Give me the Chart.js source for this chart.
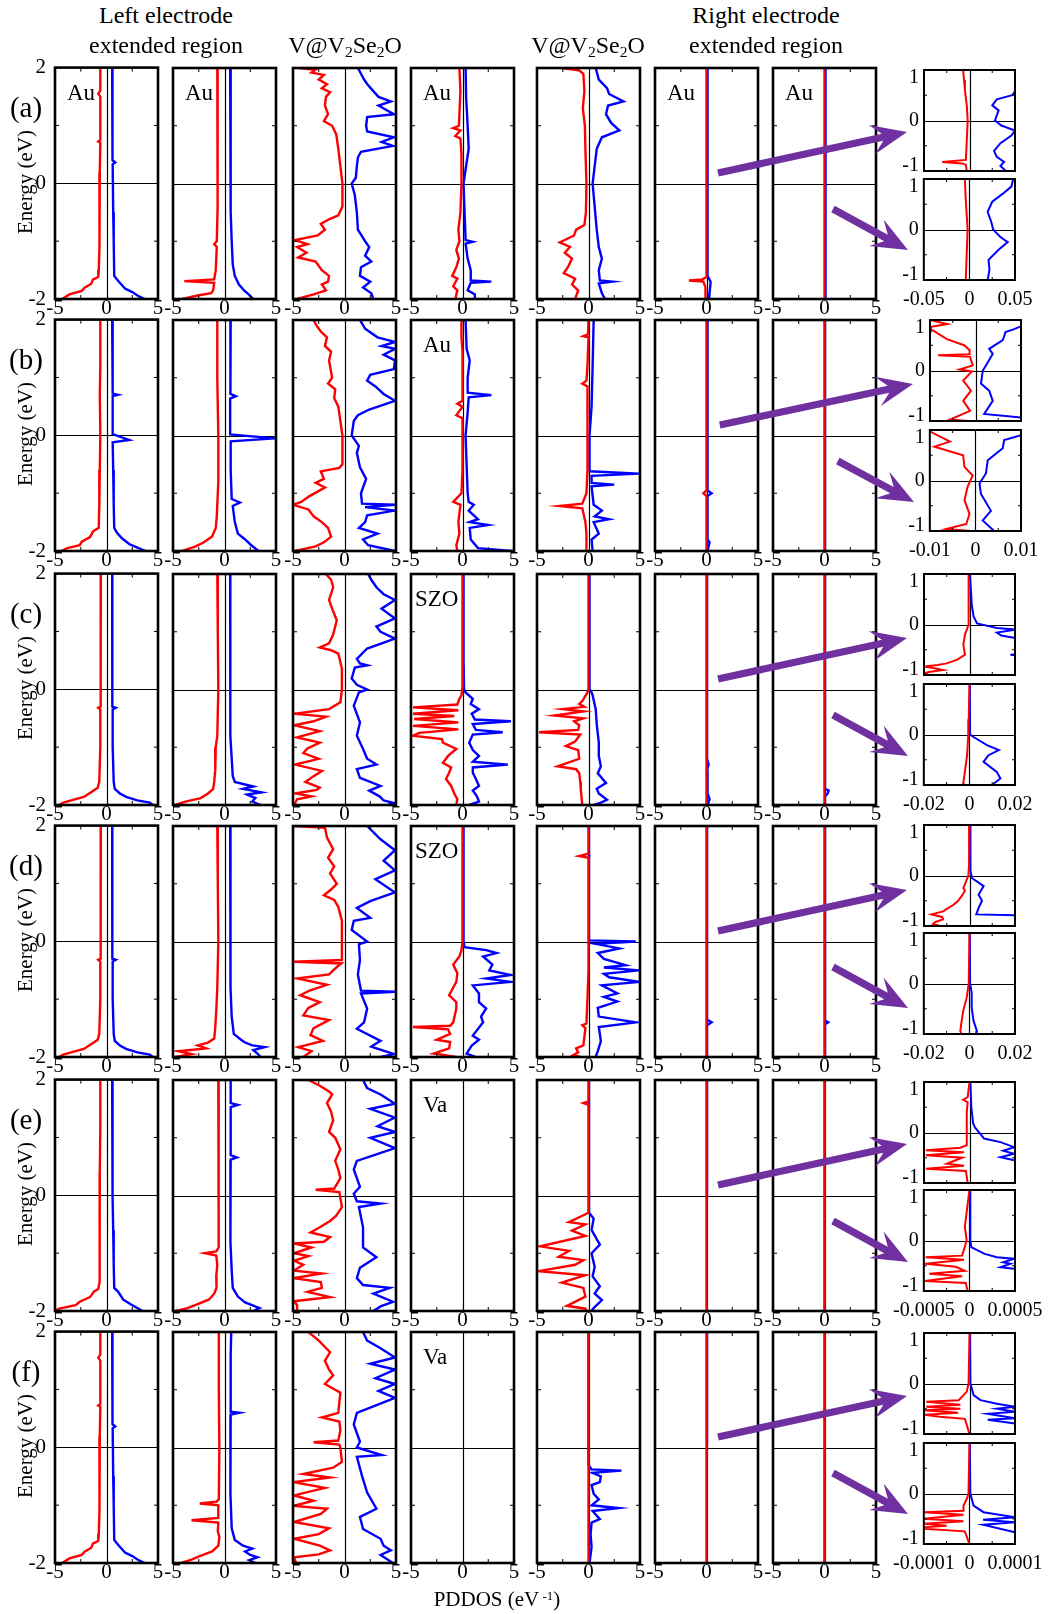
<!DOCTYPE html>
<html>
<head>
<meta charset="utf-8">
<title>PDDOS panels</title>
<script src="https://cdn.jsdelivr.net/npm/chart.js@4.4.1/dist/chart.umd.min.js"></script>
<style>
  body { margin: 0; background: #fff; }
  #fig { position: relative; width: 1061px; height: 1614px; overflow: hidden;
         font-family: "Liberation Serif", "Times New Roman", serif; color: #000; }
  #fig canvas { position: absolute; }
  .txt { position: absolute; white-space: nowrap; line-height: 1; }
  .lo { font-size: 0.65em; position: relative; top: 0.28em; }
  .hi { font-size: 0.62em; position: relative; top: -0.5em; }
  #arrows { position: absolute; left: 0; top: 0; z-index: 5; }
</style>
</head>
<body>
<div id="fig"></div>
<script>
// ---- tick labels / categories ----
const rowLetters = ["a", "b", "c", "d", "e", "f"];
const pdosTicks = [-5, 0, 5];
const pdosLabels = ["-5", "0", "5"];
const energyTicks = [-2, 0, 2];
const energyLabels = ["-2", "0", "2"];
const insetEnergyTicks = [-0.9, 0, 0.85];
const insetEnergyLabels = ["-1", "0", "1"];
const insetRange = [0.05, 0.01, 0.02, 0.02, 0.0005, 0.0001];
const insetXLabels = [
    ["-0.05", "0", "0.05"],
    ["-0.01", "0", "0.01"],
    ["-0.02", "0", "0.02"],
    ["-0.02", "0", "0.02"],
    ["-0.0005", "0", "0.0005"],
    ["-0.0001", "0", "0.0001"],
];
const panelTags = [
    ["Au", "Au", "", "Au", "", "Au", "Au"],
    ["", "", "", "Au", "", "", ""],
    ["", "", "", "SZO", "", "", ""],
    ["", "", "", "SZO", "", "", ""],
    ["", "", "", "Va", "", "", ""],
    ["", "", "", "Va", "", "", ""],
];

// ---- curves: [energy (eV), PDDOS] ----
// left electrode, column 1 (rows a, f)
const auLeftRed = [[2,-0.6],[1.6,-0.6],[1.55,-0.8],[1.5,-0.6],[0.75,-0.6],[0.72,-0.8],[0.7,-0.6],[0.2,-0.65],[-0.3,-0.65],[-0.7,-0.7],[-1.1,-0.7],[-1.5,-0.75],[-1.62,-0.8],[-1.66,-1.3],[-1.74,-1.5],[-1.8,-2.1],[-1.86,-2.4],[-1.92,-3.6],[-2,-4.3]];
const auLeftBlue = [[2,0.55],[1.5,0.6],[0.9,0.55],[0.4,0.6],[0.36,0.85],[0.33,0.6],[-0.5,0.65],[-1.0,0.7],[-1.6,0.75],[-1.66,1.0],[-1.74,1.4],[-1.82,1.8],[-1.88,2.5],[-1.94,3.0],[-2,3.7]];
// rows c, d
const auLeftRedCD = [[2,-0.55],[1.0,-0.55],[0,-0.55],[-0.3,-0.6],[-0.32,-0.8],[-0.35,-0.6],[-1.0,-0.6],[-1.6,-0.7],[-1.7,-0.85],[-1.78,-1.5],[-1.86,-2.2],[-1.9,-3.0],[-1.96,-4.2],[-2,-4.6]];
const auLeftBlueCD = [[2,0.55],[1.0,0.55],[0,0.55],[-0.3,0.6],[-0.32,0.9],[-0.35,0.6],[-1.0,0.6],[-1.6,0.7],[-1.72,0.8],[-1.8,1.3],[-1.86,1.9],[-1.92,3.0],[-1.96,4.2],[-2,4.5]];

// row a
const a2Red = [[2,-0.7],[1.2,-0.7],[0.4,-0.65],[-0.4,-0.65],[-1.0,-0.75],[-1.05,-1.0],[-1.1,-0.75],[-1.5,-0.85],[-1.66,-1.0],[-1.69,-3.9],[-1.72,-1.0],[-1.85,-1.1],[-1.9,-1.3],[-1.94,-2.6],[-2,-4.1]];
const a2Blue = [[2,0.55],[1.2,0.6],[0.3,0.6],[-0.5,0.6],[-1.0,0.7],[-1.4,0.8],[-1.6,1.0],[-1.75,1.4],[-1.85,1.9],[-1.93,2.4],[-2,2.8]];
const a3Red = [[2,-4.4],[1.97,-2.8],[1.92,-3.2],[1.88,-2.0],[1.8,-2.5],[1.72,-1.7],[1.65,-2.2],[1.58,-1.4],[1.5,-1.8],[1.35,-1.9],[1.2,-1.6],[1.08,-2.0],[1.0,-1.2],[0.85,-0.8],[0.6,-0.6],[0.3,-0.4],[0,-0.2],[-0.4,-0.2],[-0.55,-0.6],[-0.62,-1.5],[-0.7,-2.3],[-0.8,-1.9],[-0.9,-2.6],[-0.98,-4.8],[-1.05,-3.6],[-1.1,-4.6],[-1.2,-3.7],[-1.28,-4.5],[-1.35,-2.8],[-1.5,-2.2],[-1.6,-1.5],[-1.7,-1.6],[-1.75,-2.2],[-1.85,-1.8],[-1.92,-3.0],[-2,-4.6]];
const a3Blue = [[2,1.3],[1.9,1.6],[1.8,1.9],[1.7,2.3],[1.6,2.8],[1.5,3.3],[1.42,4.5],[1.35,3.3],[1.2,4.8],[1.15,2.2],[1.0,2.1],[0.9,2.2],[0.8,4.8],[0.72,3.6],[0.65,4.7],[0.55,1.6],[0.45,1.3],[0.3,1.2],[0.1,1.1],[0,0.7],[-0.2,1.0],[-0.5,1.2],[-0.8,1.3],[-1.0,2.0],[-1.1,2.4],[-1.25,2.0],[-1.35,2.6],[-1.45,1.6],[-1.6,1.5],[-1.7,2.5],[-1.8,1.8],[-1.9,2.6],[-2,2.8]];
const a4Red = [[2,-0.3],[1.6,-0.2],[1.2,-0.3],[1.0,-0.35],[0.96,-0.9],[0.92,-0.2],[0.82,-0.7],[0.78,-0.2],[0.5,-0.1],[0,-0.1],[-0.5,-0.2],[-0.8,-0.4],[-1.0,-0.3],[-1.15,-0.6],[-1.3,-0.35],[-1.45,-0.6],[-1.6,-1.0],[-1.65,-0.5],[-1.78,-0.9],[-1.85,-0.5],[-2,-0.7]];
const a4Blue = [[2,0.3],[1.5,0.35],[1.0,0.5],[0.6,0.6],[0.3,0.35],[0,0.1],[-0.5,0.2],[-0.98,0.3],[-1.01,1.0],[-1.04,0.3],[-1.3,0.5],[-1.5,0.8],[-1.68,0.8],[-1.7,2.8],[-1.72,0.8],[-1.85,0.5],[-1.92,1.2],[-2,1.2]];
const a5Red = [[2,-2.6],[1.96,-0.9],[1.9,-0.5],[1.6,-0.4],[1.3,-0.55],[1.0,-0.35],[0.6,-0.3],[0,-0.2],[-0.5,-0.25],[-0.72,-0.4],[-0.8,-1.2],[-0.9,-1.4],[-1.02,-2.8],[-1.1,-1.8],[-1.2,-2.3],[-1.3,-1.6],[-1.45,-2.0],[-1.55,-2.4],[-1.65,-1.3],[-1.75,-1.6],[-1.85,-1.0],[-2,-1.3]];
const a5Blue = [[2,0.7],[1.8,1.0],[1.65,1.8],[1.55,2.0],[1.42,3.4],[1.35,1.9],[1.2,1.7],[1.05,2.2],[0.92,3.0],[0.8,1.3],[0.6,0.8],[0.3,0.6],[0,0.4],[-0.4,0.6],[-0.8,0.8],[-1.1,1.0],[-1.3,1.3],[-1.5,1.0],[-1.68,1.1],[-1.7,2.3],[-1.73,1.0],[-1.9,1.3],[-2,1.6]];
const a6Red = [[2,0],[-1.62,0],[-1.66,-0.4],[-1.68,-1.7],[-1.7,-0.3],[-1.8,-0.1],[-2,-0.1]];
const a6Blue = [[2,0.1],[-1.6,0.1],[-1.7,0.4],[-1.9,0.3],[-2,0.25]];
const a7Red = [[2,0],[-2,0]];
const a7Blue = [[2,0.1],[-2,0.1]];
const aTopRed = [[1,-0.007],[0.8,-0.006],[0.6,-0.005],[0.3,-0.003],[0,-0.002],[-0.4,-0.003],[-0.78,-0.004],[-0.82,-0.03],[-0.85,-0.008],[-0.88,-0.004],[-1,-0.003]];
const aTopBlue = [[0.58,0.05],[0.5,0.047],[0.42,0.03],[0.3,0.025],[0.2,0.032],[0.1,0.03],[0,0.028],[-0.1,0.035],[-0.2,0.05],[-0.3,0.046],[-0.45,0.034],[-0.6,0.027],[-0.72,0.03],[-0.82,0.038],[-0.9,0.034],[-1,0.04]];
const aBotRed = [[1,-0.005],[0.6,-0.004],[0,-0.002],[-0.5,-0.003],[-1,-0.004]];
const aBotBlue = [[1,0.048],[0.85,0.046],[0.7,0.036],[0.55,0.025],[0.35,0.02],[0.15,0.024],[0,0.026],[-0.15,0.034],[-0.25,0.042],[-0.4,0.032],[-0.6,0.021],[-0.8,0.022],[-1,0.02]];

// row b
const b1Red = [[2,-0.6],[1.2,-0.6],[0.7,-0.65],[0,-0.6],[-0.6,-0.65],[-1.2,-0.7],[-1.6,-0.75],[-1.66,-1.3],[-1.76,-1.6],[-1.84,-2.4],[-1.9,-2.6],[-1.95,-3.8],[-2,-4.4]];
const b1Blue = [[2,0.55],[1.0,0.6],[0.72,0.6],[0.7,1.1],[0.68,0.6],[0.02,0.6],[-0.08,2.2],[-0.12,0.6],[-0.6,0.65],[-1.2,0.7],[-1.6,0.75],[-1.68,1.0],[-1.78,1.5],[-1.88,2.2],[-1.94,3.0],[-2,3.8]];
const b2Red = [[2,-0.7],[1.0,-0.7],[0,-0.6],[-0.8,-0.6],[-1.4,-0.75],[-1.6,-0.85],[-1.75,-1.2],[-1.85,-2.0],[-1.92,-2.8],[-2,-4.1]];
const b2Blue = [[2,0.6],[1.0,0.6],[0.72,0.55],[0.68,1.1],[0.64,0.55],[0.02,0.55],[-0.05,4.9],[-0.1,0.6],[-0.6,0.6],[-1.1,0.7],[-1.16,1.5],[-1.22,0.8],[-1.5,1.0],[-1.7,1.3],[-1.8,2.0],[-1.9,2.6],[-2,3.3]];
const b3Red = [[2,-3.0],[1.9,-2.7],[1.8,-2.3],[1.7,-1.7],[1.55,-1.9],[1.45,-1.3],[1.3,-1.5],[1.0,-1.2],[0.9,-1.6],[0.8,-0.9],[0.65,-1.0],[0.5,-0.6],[0.25,-0.4],[0,-0.2],[-0.5,-0.2],[-0.56,-0.5],[-0.62,-2.3],[-0.75,-2.0],[-0.82,-2.8],[-0.9,-1.9],[-1.05,-3.4],[-1.15,-4.2],[-1.2,-5.0],[-1.28,-3.5],[-1.4,-3.0],[-1.5,-2.2],[-1.6,-1.6],[-1.75,-1.3],[-1.85,-2.0],[-1.92,-2.8],[-2,-4.8]];
const b3Blue = [[2,1.5],[1.85,2.0],[1.7,3.2],[1.62,4.9],[1.55,3.6],[1.5,4.9],[1.4,3.8],[1.3,4.9],[1.15,4.8],[1.05,2.5],[0.95,2.2],[0.85,3.0],[0.72,3.8],[0.6,4.9],[0.45,2.4],[0.35,1.3],[0.25,0.9],[0,0.7],[-0.18,1.4],[-0.3,1.2],[-0.55,1.5],[-0.75,2.1],[-1.0,1.6],[-1.18,1.7],[-1.2,4.9],[-1.24,2.0],[-1.3,4.9],[-1.38,2.2],[-1.5,2.0],[-1.6,1.4],[-1.7,3.2],[-1.8,1.8],[-1.9,2.3],[-2,4.9]];
const b4Red = [[2,-0.1],[1.7,-0.1],[1.45,0],[0.6,0],[0.55,-0.5],[0.5,0],[0.35,-0.6],[0.3,0],[0,0],[-0.6,0],[-1.0,-0.1],[-1.15,-0.9],[-1.2,-0.2],[-1.5,-0.4],[-1.7,-0.3],[-1.9,-0.6],[-2,-0.5]];
const b4Blue = [[2,0.3],[1.5,0.4],[1.3,0.7],[1.0,0.5],[0.74,0.5],[0.7,2.8],[0.66,0.6],[0.4,0.5],[0,0.3],[-0.5,0.4],[-1.0,0.5],[-1.15,0.6],[-1.2,1.1],[-1.3,0.6],[-1.45,1.5],[-1.5,0.7],[-1.55,2.5],[-1.6,0.7],[-1.8,0.8],[-1.95,1.5],[-2,4.8]];
const b5Red = [[2,0],[1.75,-0.05],[1.72,-0.5],[1.7,0],[1.2,-0.1],[0.95,-0.2],[0.9,-0.6],[0.85,-0.1],[0,-0.1],[-0.6,-0.1],[-1.0,-0.2],[-1.18,-0.6],[-1.22,-2.8],[-1.26,-0.6],[-1.5,-0.3],[-1.7,-0.2],[-2,-0.2]];
const b5Blue = [[2,0.5],[1.2,0.4],[0.5,0.3],[0,0.1],[-0.5,0.1],[-0.62,0.1],[-0.66,4.9],[-0.7,0.3],[-0.82,0.3],[-0.85,2.5],[-0.88,0.3],[-1.2,0.5],[-1.3,1.3],[-1.4,0.6],[-1.45,2.0],[-1.5,0.5],[-1.7,1.0],[-1.8,0.3],[-2,0.4]];
const b6Red = [[2,0],[-0.95,0],[-1.0,-0.3],[-1.05,0],[-2,0]];
const b6Blue = [[2,0.1],[-0.95,0.1],[-1.0,0.5],[-1.05,0.1],[-1.8,0.1],[-1.85,0.3],[-2,0.1]];
const b7Red = [[2,0],[-2,0]];
const b7Blue = [[2,0.05],[-2,0.05]];
const bTopRed = [[1,-0.01],[0.92,-0.0062],[0.86,-0.01],[0.82,-0.0098],[0.62,-0.0063],[0.5,-0.0025],[0.4,-0.0013],[0.32,-0.0013],[0.3,-0.0082],[0.27,-0.0012],[0.1,-0.0006],[0.02,-0.0035],[-0.02,-0.0008],[-0.2,-0.0027],[-0.4,-0.001],[-0.6,-0.0027],[-0.8,-0.0012],[-0.97,-0.0056],[-1,-0.0015]];
const bTopBlue = [[0.88,0.0101],[0.82,0.0085],[0.76,0.0066],[0.6,0.006],[0.43,0.003],[0.33,0.0038],[0.1,0.0023],[0,0.0016],[-0.26,0.0012],[-0.4,0.003],[-0.6,0.0038],[-0.86,0.0019],[-0.93,0.0101]];
const bBotRed = [[1,-0.0101],[0.95,-0.0095],[0.77,-0.0056],[0.67,-0.009],[0.5,-0.0027],[0.27,-0.0024],[0.1,-0.0006],[-0.12,-0.0017],[-0.39,-0.0024],[-0.66,-0.0013],[-0.86,-0.002],[-0.96,-0.0064],[-1,-0.001]];
const bBotBlue = [[0.9,0.0101],[0.8,0.0063],[0.64,0.006],[0.4,0.0027],[0.14,0.0023],[-0.06,0.0009],[-0.26,0.0012],[-0.6,0.0034],[-0.79,0.0016],[-1,0.0041]];

// row c
const c2Red = [[2,-0.7],[1.0,-0.65],[0,-0.6],[-0.8,-0.7],[-1.0,-0.85],[-1.4,-0.9],[-1.6,-1.0],[-1.72,-1.1],[-1.8,-1.6],[-1.88,-2.3],[-1.94,-3.8],[-2,-4.8]];
const c2Blue = [[2,0.55],[1.0,0.55],[0,0.55],[-0.8,0.6],[-1.2,0.7],[-1.5,0.8],[-1.6,1.0],[-1.68,2.8],[-1.72,1.8],[-1.78,3.6],[-1.82,2.2],[-1.88,3.0],[-1.94,2.7],[-2,3.5]];
const c3Red = [[2,-1.8],[1.9,-1.3],[1.77,-1.1],[1.55,-1.5],[1.4,-1.2],[1.2,-0.75],[0.95,-1.1],[0.8,-1.5],[0.73,-2.4],[0.68,-1.3],[0.62,-0.6],[0.36,-0.25],[0,-0.25],[-0.22,-0.4],[-0.34,-1.5],[-0.42,-4.9],[-0.47,-1.8],[-0.55,-3.0],[-0.62,-4.9],[-0.72,-2.4],[-0.83,-4.6],[-0.92,-2.4],[-1.02,-3.6],[-1.1,-4.0],[-1.2,-2.5],[-1.3,-4.8],[-1.41,-2.2],[-1.5,-3.0],[-1.6,-3.8],[-1.7,-2.4],[-1.74,-2.7],[-1.8,-4.8],[-1.85,-3.2],[-1.9,-4.6],[-2,-4.9]];
const c3Blue = [[2,2.3],[1.9,2.6],[1.77,3.1],[1.65,3.8],[1.55,4.9],[1.4,3.6],[1.23,4.9],[1.09,3.1],[1.0,3.5],[0.88,4.9],[0.71,2.2],[0.53,1.2],[0.45,1.5],[0.42,2.2],[0.38,1.0],[0.19,0.7],[0.08,1.2],[0,2.2],[-0.05,1.4],[-0.28,0.9],[-0.57,1.5],[-0.8,1.2],[-1.03,1.8],[-1.2,2.2],[-1.3,3.1],[-1.38,1.2],[-1.53,1.5],[-1.67,3.5],[-1.75,2.4],[-1.85,3.4],[-1.92,3.8],[-1.97,4.9],[-2,4.2]];
const c4Red = [[2,0],[0.05,0],[-0.1,-0.1],[-0.16,-0.3],[-0.26,-0.5],[-0.31,-4.8],[-0.36,-0.4],[-0.42,-4.8],[-0.46,-0.8],[-0.51,-4.7],[-0.57,-0.4],[-0.63,-4.8],[-0.69,-0.4],[-0.75,-4.2],[-0.8,-4.8],[-0.86,-2.0],[-0.92,-1.9],[-1.03,-0.6],[-1.15,-1.4],[-1.27,-1.9],[-1.35,-1.1],[-1.44,-1.3],[-1.55,-1.6],[-1.67,-1.1],[-1.8,-0.8],[-1.9,-0.5],[-2,-0.6]];
const c4Blue = [[2,0.1],[0.5,0.1],[0,0.15],[-0.05,0.3],[-0.16,1.0],[-0.25,0.8],[-0.34,1.6],[-0.42,0.9],[-0.52,1.2],[-0.55,4.7],[-0.6,1.0],[-0.7,1.3],[-0.74,3.9],[-0.78,1.0],[-0.92,0.65],[-1.05,1.0],[-1.15,1.6],[-1.25,1.0],[-1.3,4.4],[-1.35,1.0],[-1.44,1.0],[-1.55,1.3],[-1.67,1.6],[-1.75,1.0],[-1.85,1.4],[-1.94,1.6],[-2,0.65]];
const c5Red = [[2,0],[0,0],[-0.05,-0.1],[-0.2,-0.6],[-0.25,-0.9],[-0.3,-0.4],[-0.34,-2.5],[-0.38,-0.5],[-0.45,-3.3],[-0.5,-0.5],[-0.55,-1.4],[-0.62,-0.9],[-0.7,-1.0],[-0.74,-4.8],[-0.78,-0.8],[-0.9,-1.3],[-0.98,-2.2],[-1.05,-1.0],[-1.2,-0.9],[-1.33,-3.0],[-1.38,-1.2],[-1.45,-0.9],[-1.6,-0.8],[-1.73,-0.75],[-2,-0.6]];
const c5Blue = [[2,0.1],[0,0.1],[-0.05,0.3],[-0.1,0.4],[-0.34,0.7],[-0.6,0.8],[-0.92,1.0],[-1.15,1.0],[-1.33,1.2],[-1.45,0.9],[-1.62,1.7],[-1.72,0.8],[-1.8,1.0],[-1.91,1.8],[-1.96,1.2],[-2,0.5]];
const c6Red = [[2,0],[-2,0]];
const c6Blue = [[2,0.05],[-1.2,0.05],[-1.3,0.2],[-1.4,0.05],[-1.8,0.1],[-1.9,0.3],[-2,0.1]];
const c7Red = [[2,0],[-2,0]];
const c7Blue = [[2,0.05],[-1.72,0.05],[-1.75,0.4],[-1.8,0.3],[-1.85,0.05],[-2,0.05]];
const cTopRed = [[1,-0.0003],[0.3,-0.0003],[0,-0.0005],[-0.2,-0.002],[-0.4,-0.0027],[-0.6,-0.002],[-0.7,-0.0056],[-0.77,-0.01],[-0.8,-0.014],[-0.83,-0.02],[-0.86,-0.016],[-0.9,-0.0116],[-0.94,-0.018],[-0.97,-0.02],[-1,-0.018]];
const cTopBlue = [[1,0.0002],[0.39,0.001],[0.16,0.0018],[0.02,0.0033],[-0.07,0.012],[-0.1,0.0205],[-0.16,0.012],[-0.22,0.014],[-0.27,0.0205],[-0.4,0.03],[-0.58,0.025],[-0.6,0.018],[-0.63,0.025],[-1,0.04]];
const cBotRed = [[1,0],[0.3,-0.0003],[0,-0.0005],[-0.4,-0.001],[-0.74,-0.002],[-0.97,-0.0027],[-1,-0.002]];
const cBotBlue = [[1,0.0002],[0,0.0003],[-0.05,0.0018],[-0.21,0.0077],[-0.31,0.0129],[-0.41,0.0084],[-0.54,0.0062],[-0.74,0.012],[-0.87,0.0136],[-0.97,0.0107],[-1,0.011]];

// row d
const d2Red = [[2,-0.7],[1.0,-0.65],[0,-0.6],[-0.8,-0.7],[-1.2,-0.8],[-1.5,-0.9],[-1.68,-1.0],[-1.75,-1.6],[-1.8,-2.6],[-1.85,-1.8],[-1.9,-4.5],[-1.95,-3.2],[-2,-4.8]];
const d2Blue = [[2,0.55],[1.0,0.6],[0,0.55],[-0.8,0.6],[-1.3,0.7],[-1.6,0.9],[-1.7,1.6],[-1.75,2.0],[-1.8,2.7],[-1.83,3.9],[-1.88,2.8],[-1.94,3.2],[-2,3.5]];
const d3Red = [[2,-4.9],[1.97,-1.9],[1.8,-1.7],[1.6,-1.1],[1.45,-1.6],[1.3,-1.0],[1.18,-1.4],[1.0,-0.75],[0.9,-1.3],[0.8,-2.0],[0.72,-1.0],[0.6,-0.6],[0.36,-0.25],[0,-0.25],[-0.32,-0.25],[-0.35,-4.9],[-0.38,-0.3],[-0.42,-0.6],[-0.5,-1.1],[-0.57,-1.5],[-0.64,-4.6],[-0.75,-1.7],[-0.85,-3.4],[-0.93,-4.3],[-1.05,-2.4],[-1.15,-3.5],[-1.28,-4.0],[-1.36,-1.5],[-1.5,-3.0],[-1.62,-3.3],[-1.72,-2.1],[-1.83,-4.5],[-1.9,-3.2],[-2,-4.0]];
const d3Blue = [[2,2.2],[1.77,3.5],[1.58,4.9],[1.4,3.8],[1.23,4.9],[1.08,3.0],[0.85,4.9],[0.7,2.5],[0.58,1.2],[0.41,2.5],[0.36,0.9],[0.2,0.7],[0,2.2],[-0.05,1.4],[-0.32,1.5],[-0.57,1.3],[-0.85,1.6],[-0.87,4.9],[-0.9,1.6],[-1.16,2.2],[-1.4,1.9],[-1.51,1.2],[-1.72,3.5],[-1.82,2.6],[-1.95,4.8],[-2,3.5]];
const d4Red = [[2,0],[0,0],[-0.15,-0.1],[-0.26,-0.3],[-0.4,-0.9],[-0.55,-0.5],[-0.7,-0.6],[-0.93,-1.3],[-1.05,-0.6],[-1.16,-0.6],[-1.4,-0.9],[-1.46,-1.2],[-1.48,-4.8],[-1.52,-1.4],[-1.6,-1.2],[-1.7,-2.5],[-1.74,-1.2],[-1.85,-1.3],[-1.94,-2.8],[-2,-0.6]];
const d4Blue = [[2,0.1],[0,0.1],[-0.1,0.2],[-0.15,2.3],[-0.2,3.3],[-0.26,2.0],[-0.4,2.9],[-0.5,2.6],[-0.58,4.7],[-0.64,2.3],[-0.7,4.7],[-0.76,1.0],[-0.9,1.6],[-1.05,1.6],[-1.16,2.3],[-1.3,1.8],[-1.4,2.0],[-1.63,1.0],[-1.7,1.6],[-1.8,0.9],[-1.94,0.4],[-2,1.3]];
const d5Red = [[2,0],[1.52,0],[1.48,-0.9],[1.45,0],[-0.5,0],[-1.0,-0.1],[-1.42,-0.2],[-1.45,-0.6],[-1.5,-0.3],[-1.8,-0.5],[-1.85,-1.2],[-1.92,-1.0],[-1.97,-1.5],[-2,-0.8]];
const d5Blue = [[2,0.05],[0.02,0.05],[0,4.6],[-0.04,0.7],[-0.12,3.0],[-0.2,0.9],[-0.3,1.5],[-0.41,3.6],[-0.45,1.5],[-0.5,4.9],[-0.56,1.5],[-0.62,2.0],[-0.7,4.9],[-0.76,1.3],[-0.9,2.8],[-0.96,1.5],[-1.04,2.8],[-1.15,0.9],[-1.3,1.0],[-1.4,4.6],[-1.48,1.0],[-1.6,1.1],[-1.73,1.2],[-1.9,0.9],[-2,0.7]];
const d6Red = [[2,0],[-2,0]];
const d6Blue = [[2,0.05],[-1.35,0.05],[-1.4,0.5],[-1.45,0.05],[-2,0.05]];
const d7Red = [[2,0],[-2,0]];
const d7Blue = [[2,0.05],[-1.37,0.05],[-1.4,0.35],[-1.43,0.05],[-2,0.05]];
const dTopRed = [[1,0],[0.2,-0.0002],[0,-0.0005],[-0.25,-0.0027],[-0.3,-0.002],[-0.38,-0.003],[-0.5,-0.005],[-0.58,-0.007],[-0.66,-0.01],[-0.71,-0.0116],[-0.77,-0.0167],[-0.82,-0.012],[-0.87,-0.0116],[-0.92,-0.015],[-0.96,-0.016],[-1,-0.013]];
const dTopBlue = [[1,0.0003],[0.1,0.0004],[-0.05,0.001],[-0.21,0.0062],[-0.3,0.005],[-0.38,0.004],[-0.5,0.0055],[-0.64,0.004],[-0.77,0.003],[-0.79,0.0205],[-1,0.03]];
const dBotRed = [[1,0],[0,-0.0003],[-0.28,-0.0012],[-0.54,-0.0027],[-0.74,-0.0034],[-0.94,-0.004],[-1,-0.0035]];
const dBotBlue = [[1,0.0002],[0,0.0003],[-0.18,0.001],[-0.48,0.001],[-0.74,0.0018],[-0.94,0.0033],[-1,0.003]];

// row e
const e1Red = [[2,-0.6],[1.2,-0.6],[0.4,-0.65],[-0.5,-0.65],[-1.0,-0.65],[-1.5,-0.7],[-1.62,-0.8],[-1.66,-1.2],[-1.76,-1.6],[-1.84,-2.6],[-1.9,-3.0],[-1.96,-4.6],[-2,-5]];
const e1Blue = [[2,0.55],[1.5,0.6],[0.8,0.55],[0.3,0.6],[0,0.6],[-0.6,0.65],[-1.2,0.7],[-1.6,0.75],[-1.66,1.1],[-1.74,1.4],[-1.8,1.6],[-1.88,2.3],[-1.94,2.9],[-2,3.5]];
const e2Red = [[2,-0.6],[1.0,-0.55],[0,-0.55],[-0.9,-0.6],[-0.97,-0.8],[-1.0,-1.9],[-1.04,-0.8],[-1.2,-0.7],[-1.4,-0.8],[-1.5,-0.75],[-1.6,-0.8],[-1.7,-1.0],[-1.8,-1.5],[-1.88,-2.6],[-1.95,-3.6],[-2,-4.7]];
const e2Blue = [[2,0.6],[1.6,0.6],[1.57,1.3],[1.53,0.6],[0.7,0.6],[0.66,1.2],[0.62,0.6],[0,0.55],[-0.8,0.6],[-1.3,0.7],[-1.6,0.8],[-1.75,1.3],[-1.85,2.0],[-1.95,3.4],[-2,2.8]];
const e3Red = [[2,-3.5],[1.9,-2.4],[1.8,-1.5],[1.75,-1.2],[1.6,-1.7],[1.45,-1.3],[1.3,-1.1],[1.1,-1.5],[1.0,-0.9],[0.8,-0.4],[0.6,-0.9],[0.45,-0.6],[0.3,-0.4],[0.12,-1.0],[0.1,-2.8],[0.06,-0.5],[-0.2,-0.25],[-0.35,-0.8],[-0.44,-1.4],[-0.55,-2.4],[-0.64,-3.3],[-0.72,-1.4],[-0.8,-2.0],[-0.83,-4.9],[-0.9,-3.2],[-1.0,-4.9],[-1.05,-3.5],[-1.13,-4.9],[-1.2,-4.0],[-1.3,-4.9],[-1.35,-2.2],[-1.43,-4.9],[-1.5,-2.3],[-1.6,-2.2],[-1.67,-3.6],[-1.76,-1.4],[-1.83,-4.9],[-1.9,-4.6],[-2,-4.6]];
const e3Blue = [[2,1.8],[1.86,2.2],[1.75,3.5],[1.59,4.9],[1.5,2.5],[1.35,4.9],[1.2,3.2],[1.1,4.9],[1.0,2.5],[0.82,4.9],[0.6,1.2],[0.45,0.9],[0.15,1.5],[0.03,0.9],[-0.1,1.2],[-0.14,3.5],[-0.2,1.4],[-0.55,1.8],[-0.9,1.8],[-1.07,3.1],[-1.25,1.5],[-1.43,1.2],[-1.55,1.8],[-1.6,4.4],[-1.7,2.8],[-1.84,4.7],[-1.92,3.5],[-2,2.8]];
const e5Red = [[2,0],[1.63,0],[1.6,-0.5],[1.57,0],[-0.3,0],[-0.35,-0.6],[-0.46,-1.9],[-0.5,-0.3],[-0.61,-1.6],[-0.7,-0.3],[-0.88,-4.7],[-0.96,-1.9],[-1.06,-2.9],[-1.12,-0.5],[-1.2,-1.3],[-1.31,-4.8],[-1.38,-0.3],[-1.51,-2.6],[-1.6,-0.5],[-1.75,-0.3],[-1.91,-2.1],[-1.96,-0.3],[-2,-0.2]];
const e5Blue = [[2,0.05],[-0.3,0.05],[-0.4,0.5],[-0.6,0.3],[-0.85,1.1],[-1.0,0.3],[-1.24,0.6],[-1.4,0.4],[-1.57,1.1],[-1.7,0.6],[-1.81,1.3],[-1.95,0.5],[-2,0.3]];
const e6Red = [[2,0],[-2,0]];
const e6Blue = [[2,0.05],[0,0.05]];
const e7Red = [[2,0],[-2,0]];
const e7Blue = [[2,0.03],[-2,0.03]];
const eTopRed = [[1,0],[0.7,-0.00002],[0.65,-0.00007],[0.6,-0.00002],[0.41,-0.00003],[0.08,-0.00003],[-0.25,-0.00003],[-0.3,-0.0001],[-0.35,-0.00048],[-0.39,-0.00006],[-0.45,-0.00048],[-0.5,-0.00008],[-0.62,-0.00025],[-0.66,-0.00006],[-0.72,-0.00048],[-0.76,-0.00004],[-1,-0.00002]];
const eTopBlue = [[1,0.00001],[0.5,0.00002],[0.18,0.00004],[0.1,0.00006],[-0.12,0.00016],[-0.19,0.00034],[-0.29,0.00049],[-0.36,0.00037],[-0.42,0.00049],[-0.49,0.00034],[-0.55,0.00049],[-0.6,0.0006]];
const eBotRed = [[1,0],[0.27,-0.00005],[0,-0.00003],[-0.3,-0.00008],[-0.33,-0.00048],[-0.38,-0.00006],[-0.46,-0.00048],[-0.52,-0.00015],[-0.6,-0.00005],[-0.66,-0.00044],[-0.71,-0.00008],[-0.8,-0.00049],[-0.84,-0.00004],[-1,-0.00002]];
const eBotBlue = [[1,0.00001],[0,0.00001],[-0.13,0.00002],[-0.26,0.00016],[-0.33,0.0003],[-0.36,0.00049],[-0.43,0.00037],[-0.46,0.00045],[-0.53,0.00034],[-0.56,0.00049],[-0.6,0.0006]];

// row f
const f2Red = [[2,-0.55],[1.0,-0.55],[0,-0.5],[-0.9,-0.55],[-0.94,-0.8],[-0.97,-2.4],[-1.0,-0.6],[-1.22,-0.6],[-1.26,-3.2],[-1.3,-0.6],[-1.45,-0.65],[-1.55,-0.5],[-1.7,-0.6],[-1.8,-1.2],[-1.88,-2.4],[-1.94,-3.2],[-2,-4.2]];
const f2Blue = [[2,0.65],[1.6,0.6],[1.0,0.6],[0.62,0.6],[0.6,1.45],[0.57,0.6],[0,0.55],[-0.8,0.6],[-1.4,0.7],[-1.6,1.0],[-1.7,1.8],[-1.75,2.7],[-1.8,2.0],[-1.86,2.5],[-1.9,3.2],[-1.95,2.4],[-2,3.0]];
const f3Red = [[2,-3.5],[1.85,-2.5],[1.65,-1.4],[1.5,-1.9],[1.35,-1.5],[1.25,-1.1],[1.1,-1.9],[0.95,-0.4],[0.78,-0.5],[0.6,-0.6],[0.52,-2.2],[0.45,-0.5],[0.3,-0.4],[0.12,-0.6],[0.09,-3.0],[0.05,-0.5],[0,-0.4],[-0.25,-0.25],[-0.35,-1.1],[-0.46,-4.0],[-0.52,-1.4],[-0.6,-4.9],[-0.7,-1.9],[-0.83,-4.9],[-0.92,-3.0],[-1.01,-4.9],[-1.06,-1.7],[-1.15,-2.3],[-1.29,-4.9],[-1.4,-1.5],[-1.5,-2.5],[-1.58,-4.9],[-1.7,-2.4],[-1.78,-1.4],[-1.85,-2.5],[-1.9,-4.9],[-2,-4.7]];
const f3Blue = [[2,1.8],[1.85,2.2],[1.72,3.5],[1.56,4.9],[1.45,2.5],[1.35,4.9],[1.2,3.0],[1.1,4.9],[0.98,3.3],[0.86,4.9],[0.6,1.2],[0.4,0.9],[0.1,1.5],[0,1.2],[-0.13,3.6],[-0.16,1.2],[-0.49,1.7],[-0.78,2.2],[-1.06,3.1],[-1.2,1.5],[-1.41,1.8],[-1.58,3.5],[-1.7,3.8],[-1.78,4.5],[-1.86,3.5],[-2,4.7]];
const f5Red = [[2,0],[-2,0]];
const f5Blue = [[2,0],[-0.3,0],[-0.38,0.3],[-0.4,3.2],[-0.44,0.4],[-0.5,1.2],[-0.6,1.1],[-0.65,0.3],[-0.8,0.5],[-0.9,1.0],[-1.0,0.3],[-1.05,2.9],[-1.1,0.4],[-1.24,1.1],[-1.3,0.3],[-1.5,0.2],[-1.72,0.3],[-2,0.1]];
const f6Red = [[2,0],[-2,0]];
const f6Blue = [[2,0.05],[0.05,0.05]];
const f7Red = [[2,0],[-2,0]];
const f7Blue = [[2,0.03],[-2,0.03]];
const fTopRed = [[1,0],[0,-0.000002],[-0.16,-0.000006],[-0.23,-0.000013],[-0.33,-0.000024],[-0.36,-0.000095],[-0.42,-0.00002],[-0.46,-0.000095],[-0.5,-0.00002],[-0.53,-0.0001],[-0.58,-0.000025],[-0.62,-0.0001],[-0.66,-0.000065],[-0.7,-0.00001],[-1,0]];
const fTopBlue = [[1,0.000001],[0,0.000002],[-0.23,0.000009],[-0.33,0.000024],[-0.4,0.00006],[-0.46,0.0001],[-0.5,0.00006],[-0.56,0.0001],[-0.6,0.00004],[-0.69,0.0001],[-0.72,0.00004],[-0.79,0.0001]];
const fBotRed = [[1,0],[0,-0.000002],[-0.11,-0.000006],[-0.24,-0.000013],[-0.34,-0.000013],[-0.37,-0.0001],[-0.42,-0.000013],[-0.5,-0.0001],[-0.55,-0.000013],[-0.6,-0.0001],[-0.64,-0.00005],[-0.67,-0.0001],[-0.7,-0.0001],[-0.75,-0.00001],[-1,0]];
const fBotBlue = [[1,0.000001],[0,0.000002],[-0.24,0.000009],[-0.37,0.000031],[-0.47,0.0001],[-0.52,0.00003],[-0.57,0.0001],[-0.62,0.00003],[-0.77,0.0001]];

const none = [];

// rows x columns of [red, blue]
const mainCurves = [
    [[auLeftRed, auLeftBlue], [a2Red, a2Blue], [a3Red, a3Blue], [a4Red, a4Blue], [a5Red, a5Blue], [a6Red, a6Blue], [a7Red, a7Blue]],
    [[b1Red, b1Blue], [b2Red, b2Blue], [b3Red, b3Blue], [b4Red, b4Blue], [b5Red, b5Blue], [b6Red, b6Blue], [b7Red, b7Blue]],
    [[auLeftRedCD, auLeftBlueCD], [c2Red, c2Blue], [c3Red, c3Blue], [c4Red, c4Blue], [c5Red, c5Blue], [c6Red, c6Blue], [c7Red, c7Blue]],
    [[auLeftRedCD, auLeftBlueCD], [d2Red, d2Blue], [d3Red, d3Blue], [d4Red, d4Blue], [d5Red, d5Blue], [d6Red, d6Blue], [d7Red, d7Blue]],
    [[e1Red, e1Blue], [e2Red, e2Blue], [e3Red, e3Blue], [none, none], [e5Red, e5Blue], [e6Red, e6Blue], [e7Red, e7Blue]],
    [[auLeftRed, auLeftBlue], [f2Red, f2Blue], [f3Red, f3Blue], [none, none], [f5Red, f5Blue], [f6Red, f6Blue], [f7Red, f7Blue]],
];
const insetCurves = [
    [[aTopRed, aTopBlue], [aBotRed, aBotBlue]],
    [[bTopRed, bTopBlue], [bBotRed, bBotBlue]],
    [[cTopRed, cTopBlue], [cBotRed, cBotBlue]],
    [[dTopRed, dTopBlue], [dBotRed, dBotBlue]],
    [[eTopRed, eTopBlue], [eBotRed, eBotBlue]],
    [[fTopRed, fTopBlue], [fBotRed, fBotBlue]],
];

// ---- layout ----
const colLeft = [55, 173, 293, 411, 537, 655, 773];
const rowTop = [68, 320, 574, 826, 1080, 1332];
const panelW = 103, panelH = 231;
const insetLeft = [924, 930, 924, 924, 924, 924];
const insetTop = [70, 320, 574, 825, 1082, 1333];
const insetBotTop = [179, 430, 684, 933, 1190, 1443];
const insetW = 91, insetH = 101;

const RED = "rgb(255, 0, 0)";
const BLUE = "rgb(0, 0, 255)";
const PURPLE = "rgb(112, 48, 160)";
const SERIF = '"Liberation Serif", "Times New Roman", serif';

Chart.defaults.font.family = SERIF;
Chart.defaults.color = "#000";

const fig = document.getElementById("fig");

// frame, zero lines, inner minor ticks and panel tag
const framePlugin = {
    id: "frameBox",
    beforeDatasetsDraw(chart, args, o) {
        const { ctx, chartArea: a, scales } = chart;
        const x0 = Math.round(scales.x.getPixelForValue(0)) + 0.5;
        const y0 = Math.round(scales.y.getPixelForValue(0)) + 0.5;
        ctx.save();
        ctx.strokeStyle = "#000";
        ctx.lineWidth = 1.2;
        ctx.beginPath();
        ctx.moveTo(x0, a.top);
        ctx.lineTo(x0, a.bottom);
        ctx.moveTo(a.left, y0);
        ctx.lineTo(a.right, y0);
        ctx.stroke();
        ctx.restore();
    },
    afterDatasetsDraw(chart, args, o) {
        const { ctx, chartArea: a, scales } = chart;
        ctx.save();
        ctx.strokeStyle = "#000";
        ctx.lineWidth = 1;
        ctx.beginPath();
        o.minorX.forEach((v) => {
            const px = scales.x.getPixelForValue(v);
            ctx.moveTo(px, a.top);
            ctx.lineTo(px, a.top + o.tick);
            ctx.moveTo(px, a.bottom);
            ctx.lineTo(px, a.bottom - o.tick);
        });
        o.minorY.forEach((v) => {
            const py = scales.y.getPixelForValue(v);
            ctx.moveTo(a.left, py);
            ctx.lineTo(a.left + o.tick, py);
            ctx.moveTo(a.right, py);
            ctx.lineTo(a.right - o.tick, py);
        });
        ctx.stroke();
        ctx.lineWidth = o.width;
        ctx.strokeRect(a.left, a.top, a.right - a.left, a.bottom - a.top);
        if (o.tag) {
            ctx.fillStyle = "#000";
            ctx.font = "23px " + SERIF;
            ctx.textBaseline = "alphabetic";
            ctx.fillText(o.tag, a.left + o.tagDx, a.top + 32);
        }
        ctx.restore();
    },
};

function toPoints(list) {
    return list.map((p) => ({ x: p[1], y: p[0] }));
}

function plotConfig(p, xh, yw) {
    return {
        type: "scatter",
        data: {
            datasets: [
                { data: toPoints(p.red), borderColor: RED, borderWidth: p.lw, showLine: true, pointRadius: 0, tension: 0 },
                { data: toPoints(p.blue), borderColor: BLUE, borderWidth: p.lw, showLine: true, pointRadius: 0, tension: 0 },
            ],
        },
        options: {
            responsive: false,
            animation: false,
            events: [],
            layout: { padding: { left: p.padL, right: p.padR, top: p.padT, bottom: p.padB } },
            plugins: {
                legend: { display: false },
                tooltip: { enabled: false },
                frameBox: { width: p.frame, tick: p.tick, minorX: p.minorX, minorY: p.minorY, tag: p.tag, tagDx: p.tagDx },
            },
            scales: {
                x: {
                    type: "linear", min: -p.xr, max: p.xr, display: p.showX,
                    grid: { display: false, drawTicks: false }, border: { display: false },
                    ticks: { padding: p.xPad, autoSkip: false, maxRotation: 0, font: { size: p.font }, color: "#000",
                             callback: (v, i) => p.xLabels[i] },
                    afterBuildTicks: (s) => { s.ticks = p.xTicks.map((v) => ({ value: v })); },
                    afterFit: (s) => { s.height = xh; },
                },
                y: {
                    type: "linear", min: -p.yr, max: p.yr, display: p.showY,
                    grid: { display: false, drawTicks: false }, border: { display: false },
                    ticks: { padding: p.yPad, font: { size: p.font }, color: "#000",
                             callback: (v, i) => p.yLabels[i] },
                    afterBuildTicks: (s) => { s.ticks = p.yTicks.map((v) => ({ value: v })); },
                    afterFit: (s) => { s.width = yw; },
                },
            },
        },
        plugins: [framePlugin],
    };
}

// place a chart so that its plot area lands exactly on the wanted box
function addPlot(p) {
    const yw = p.showY ? p.yw : 0;
    const xh = p.showX ? p.xh : 0;
    const canvas = document.createElement("canvas");
    fig.appendChild(canvas);
    let cl = p.left - p.padL - yw, ct = p.top - p.padT;
    let cw = p.padL + yw + p.w + p.padR, ch = p.padT + p.h + xh + p.padB;
    for (let pass = 0; pass < 3; pass++) {
        canvas.width = cw;
        canvas.height = ch;
        canvas.style.width = cw + "px";
        canvas.style.height = ch + "px";
        canvas.style.left = cl + "px";
        canvas.style.top = ct + "px";
        const chart = new Chart(canvas.getContext("2d"), plotConfig(p, xh, yw));
        const a = chart.chartArea;
        const dl = Math.round(p.left - (cl + a.left));
        const dt = Math.round(p.top - (ct + a.top));
        const dw = Math.round(p.w - (a.right - a.left));
        const dh = Math.round(p.h - (a.bottom - a.top));
        if (!dl && !dt && !dw && !dh) break;
        if (pass === 2) break;
        chart.destroy();
        cl += dl; ct += dt; cw += dw; ch += dh;
    }
}

// main panels
rowLetters.forEach((letter, r) => {
    colLeft.forEach((L, c) => {
        const [red, blue] = mainCurves[r][c];
        const tag = panelTags[r][c];
        addPlot({
            left: L, top: rowTop[r], w: panelW, h: panelH,
            padL: c === 0 ? 6 : 14, padR: 14, padT: 16, padB: 4,
            showX: true, xh: 24, xPad: -3, showY: c === 0, yw: 34, yPad: 9,
            xr: 5, yr: 2, xTicks: pdosTicks, xLabels: pdosLabels,
            yTicks: energyTicks, yLabels: energyLabels, font: 21,
            red, blue, lw: 2.4, frame: 2.6, tick: 4,
            minorX: [-2.5, 2.5], minorY: [-1, 1],
            tag, tagDx: tag === "SZO" ? 4 : 12,
        });
    });

    // insets
    const rr = insetRange[r];
    [insetTop[r], insetBotTop[r]].forEach((T, k) => {
        const [red, blue] = insetCurves[r][k];
        addPlot({
            left: insetLeft[r], top: T, w: insetW, h: insetH,
            padL: 4, padR: 40, padT: 16, padB: 16,
            showX: k === 1, xh: 32, xPad: 8, showY: true, yw: 24, yPad: 5,
            xr: rr, yr: 1, xTicks: [-rr, 0, rr], xLabels: insetXLabels[r],
            yTicks: insetEnergyTicks, yLabels: insetEnergyLabels, font: 20,
            red, blue, lw: 2, frame: 2, tick: 3,
            minorX: [-rr / 2, rr / 2], minorY: [-0.5, 0.5],
            tag: "", tagDx: 0,
        });
    });
});

// ---- texts ----
function addText(html, x, baseline, size, center) {
    const d = document.createElement("div");
    d.className = "txt";
    d.innerHTML = html;
    d.style.fontSize = size + "px";
    d.style.left = x + "px";
    d.style.top = (baseline - 0.84 * size) + "px";
    if (center) d.style.transform = "translateX(-50%)";
    fig.appendChild(d);
    return d;
}

const vse = 'V@V<span class="lo">2</span>Se<span class="lo">2</span>O';
addText("Left electrode", 166, 23, 24, true);
addText("extended region", 166, 53, 24, true);
addText(vse, 345, 53, 24, true);
addText(vse, 588, 53, 24, true);
addText("Right electrode", 766, 23, 24, true);
addText("extended region", 766, 53, 24, true);
addText('PDDOS (eV<span class="hi"> -1</span>)', 497, 1607, 21, true);

rowLetters.forEach((letter, r) => {
    addText("(" + letter + ")", 26, rowTop[r] + 49, 29, true);
    const e = document.createElement("div");
    e.className = "txt";
    e.textContent = "Energy (eV)";
    e.style.fontSize = "21px";
    e.style.left = "25px";
    e.style.top = (rowTop[r] + 114) + "px";
    e.style.transform = "translate(-50%, -50%) rotate(-90deg)";
    fig.appendChild(e);
});

// ---- arrows from the right-electrode panels to the insets ----
const svgNS = "http://www.w3.org/2000/svg";
const svg = document.createElementNS(svgNS, "svg");
svg.setAttribute("id", "arrows");
svg.setAttribute("width", 1061);
svg.setAttribute("height", 1614);
fig.appendChild(svg);

function arrow(x1, y1, x2, y2) {
    const dx = x2 - x1, dy = y2 - y1, len = Math.hypot(dx, dy);
    const ux = dx / len, uy = dy / len, nx = -uy, ny = ux;
    const sw = 3.6, hl = 36, hw = 15, notch = 25;
    const pt = (d, n) => (x2 - ux * d + nx * n).toFixed(1) + "," + (y2 - uy * d + ny * n).toFixed(1);
    const pts = [
        (x1 + nx * sw).toFixed(1) + "," + (y1 + ny * sw).toFixed(1),
        pt(notch, sw), pt(hl, hw), pt(0, 0), pt(hl, -hw), pt(notch, -sw),
        (x1 - nx * sw).toFixed(1) + "," + (y1 - ny * sw).toFixed(1),
    ];
    const poly = document.createElementNS(svgNS, "polygon");
    poly.setAttribute("points", pts.join(" "));
    poly.setAttribute("fill", PURPLE);
    svg.appendChild(poly);
}

rowTop.forEach((T, r) => {
    const s = insetLeft[r] - 924;
    arrow(718 + s * 0.3, T + 105, 907 + s, T + 64);
    arrow(833 + s * 0.8, T + 141, 908 + s, T + 182);
});
</script>
</body>
</html>
